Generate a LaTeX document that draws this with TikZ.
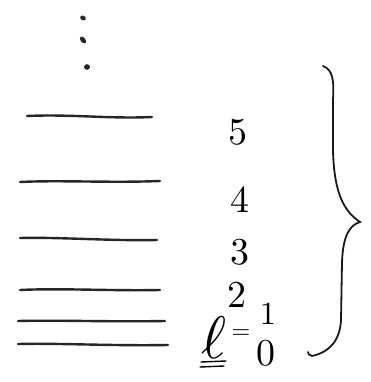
\documentclass[tikz,border=0pt]{standalone}
\begin{document}
\begin{tikzpicture}[x=1pt,y=-1pt,
  level/.style={line width=2.4pt,line cap=round,black!85},
  num/.style={inner sep=0pt,scale=3.8},
  dotmark/.style={fill=black!85,draw=none},
  bracestyle/.style={line width=1.8pt,line cap=round,black!90}]
\useasboundingbox (0,0) rectangle (371,382);
% dots
\fill[dotmark,rotate around={-30:(83,18)}] (83,18) ellipse (3pt and 2.3pt);
\fill[dotmark,rotate around={-50:(83,40)}] (83,40) ellipse (4pt and 2.4pt);
\fill[dotmark] (87,67) ellipse (3pt and 2.8pt);
% levels
\draw[level] (27,116) .. controls (70,114) and (110,119) .. (152,117);
\draw[level] (20,182) .. controls (60,180) and (110,183) .. (160,181);
\draw[level] (20,238) .. controls (60,237) and (110,241) .. (157,240);
\draw[level] (20,290) .. controls (60,288) and (110,291) .. (160,290);
\draw[level] (18,321) .. controls (60,320) and (110,322) .. (165,321);
\draw[level] (18,344) .. controls (60,343) and (110,346) .. (168,345);
% labels
\node[num] (n5) at (238,132) {5};
\node[num] (n4) at (240,200) {4};
\node[num] (n3) at (240,252) {3};
\node[num] (n2) at (237,295) {2};
\node[num,scale=0.85] (n1) at (268,314) {1};
\node[num] (n0) at (266,353) {0};
\node[inner sep=0pt,scale=6] (ell) at (214,338) {$\ell$};
\node[inner sep=0pt,scale=2.4] (eq) at (241,334) {$=$};
\draw[line width=1.4pt,line cap=round] (201,362) -- (226,361);
\draw[line width=1.4pt,line cap=round] (200,367) -- (224,366);
% brace
\draw[bracestyle] (323,66) .. controls (333,70) and (334,80) .. (333,100)
  -- (333,150) .. controls (334,195) and (345,212) .. (360,222)
  .. controls (350,225) and (343,235) .. (342,262)
  -- (341,320) .. controls (340,340) and (330,352) .. (312,356)
  .. controls (309,355) and (308,354) .. (308,352);
\end{tikzpicture}
\end{document}
